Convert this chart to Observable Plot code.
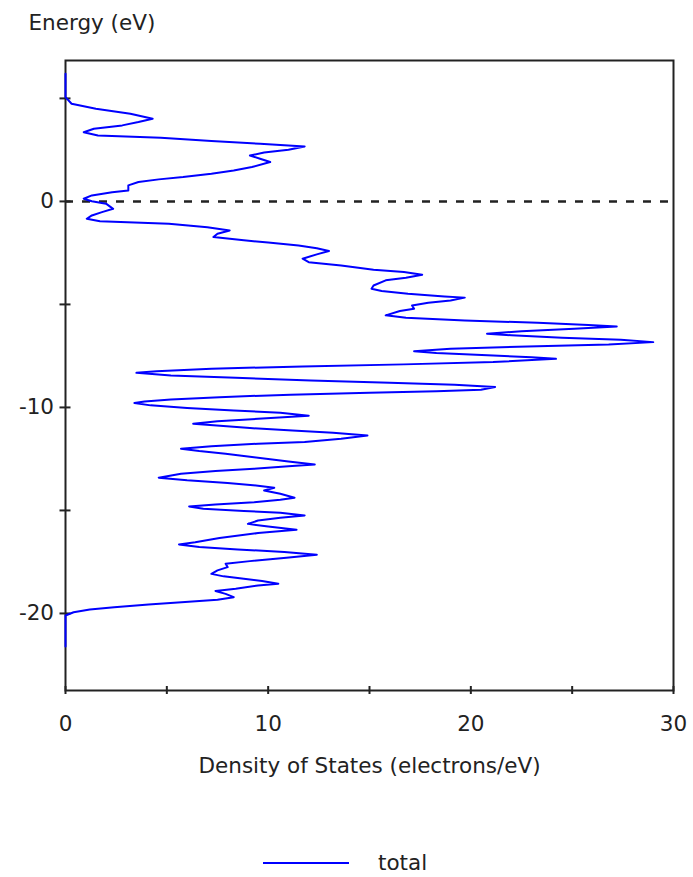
<!DOCTYPE html>
<html>
<head>
<meta charset="utf-8">
<script src="https://cdn.jsdelivr.net/npm/d3@7"></script>
<script src="https://cdn.jsdelivr.net/npm/@observablehq/plot@0.6"></script>
<style>
  html, body { margin: 0; padding: 0; background: #fff; }
  #wrap { position: relative; width: 693px; height: 877px; font-family: "DejaVu Sans", sans-serif; color: #222; }
  #legend-line { position: absolute; left: 263px; top: 861.5px; width: 86px; height: 2px; background: #0000ff; }
  #legend-text { position: absolute; left: 378px; top: 851.8px; font-size: 21.5px; line-height: 1; }
</style>
</head>
<body>
<div id="wrap">
  <div id="chart"></div>
  <div id="legend-line"></div>
  <span id="legend-text">total</span>
</div>
<script>
// Energy (eV), from top to bottom, and total density of states (electrons/eV)
const energy = [
  6.2, 5.06, 4.74, 4.5, 4.26, 4.01, 3.85, 3.69, 3.53, 3.36, 3.2, 3.09, 2.93, 2.8, 2.67, 2.51, 2.37, 2.23, 2.07, 1.91,
  1.67, 1.5, 1.34, 1.18, 1.07, 0.94, 0.78, 0.53, 0.45, 0.29, 0.13, 0.01, -0.11, -0.36, -0.52, -0.68, -0.84, -0.96, -1.08, -1.25,
  -1.41, -1.57, -1.73, -1.89, -2.0, -2.14, -2.27, -2.41, -2.57, -2.78, -2.95, -3.11, -3.32, -3.43, -3.56, -3.7, -3.83, -4.08, -4.24, -4.35,
  -4.48, -4.61, -4.67, -4.81, -4.92, -5.05, -5.21, -5.32, -5.53, -5.65, -5.78, -5.89, -6.0, -6.07, -6.18, -6.3, -6.42, -6.5, -6.62, -6.72,
  -6.83, -6.94, -7.04, -7.15, -7.27, -7.36, -7.48, -7.56, -7.64, -7.8, -7.91, -8.01, -8.12, -8.24, -8.32, -8.45, -8.56, -8.69, -8.8, -8.9,
  -9.01, -9.14, -9.21, -9.29, -9.38, -9.5, -9.61, -9.71, -9.79, -9.9, -10.03, -10.15, -10.26, -10.4, -10.55, -10.67, -10.79, -10.87, -11.0, -11.12,
  -11.23, -11.36, -11.52, -11.68, -11.76, -11.88, -12.0, -12.12, -12.25, -12.38, -12.49, -12.62, -12.77, -12.86, -12.98, -13.09, -13.22, -13.41, -13.54, -13.67,
  -13.8, -13.9, -14.03, -14.19, -14.38, -14.48, -14.6, -14.71, -14.81, -14.92, -15.03, -15.11, -15.24, -15.36, -15.49, -15.65, -15.78, -15.94, -16.1, -16.34,
  -16.54, -16.65, -16.78, -16.89, -17.02, -17.15, -17.3, -17.46, -17.59, -17.75, -17.91, -18.08, -18.2, -18.32, -18.43, -18.56, -18.64, -18.8, -18.91, -19.05,
  -19.21, -19.34, -19.45, -19.56, -19.7, -19.81, -19.94, -20.1, -21.6
];
const dos = [
  0, 0, 0.3, 1.5, 3.2, 4.3, 3.6, 2.8, 1.4, 0.9, 1.6, 4.7, 7.2, 9.6, 11.8, 11.0, 9.8, 9.1, 9.6, 10.1,
  9.2, 8.3, 7.2, 5.8, 4.6, 3.6, 3.1, 3.1, 2.3, 1.3, 0.9, 1.3, 2.0, 2.35, 1.8, 1.3, 1.05, 1.7, 5.1, 7.0,
  8.1, 7.5, 7.3, 8.8, 10.0, 11.5, 12.4, 13.0, 12.4, 11.7, 12.0, 13.6, 15.2, 16.7, 17.6, 16.8, 15.8, 15.2, 15.1, 15.6,
  16.9, 18.7, 19.7, 19.0, 17.9, 17.1, 17.2, 16.5, 15.8, 16.8, 19.7, 23.3, 25.8, 27.2, 25.1, 22.5, 20.8, 22.0, 24.5, 27.4,
  29.0, 26.8, 22.8, 19.0, 17.2, 18.3, 21.1, 23.0, 24.2, 21.1, 16.7, 11.7, 7.2, 4.5, 3.5, 5.2, 8.4, 12.1, 16.0, 19.2,
  21.2, 20.5, 18.3, 15.0, 11.1, 7.6, 5.2, 3.9, 3.4, 4.2, 6.0, 8.3, 10.6, 12.0, 9.5, 7.5, 6.3, 7.3, 9.1, 11.2,
  13.2, 14.9, 13.6, 11.8, 9.5, 7.2, 5.7, 6.6, 7.9, 9.0, 9.9, 11.0, 12.3, 11.0, 9.3, 7.4, 5.7, 4.6, 6.0, 8.0,
  9.5, 10.3, 9.8, 10.6, 11.3, 10.6, 9.3, 7.4, 6.1, 6.8, 8.8, 10.6, 11.8, 10.6, 9.5, 9.0, 10.0, 11.4, 9.5, 7.6,
  6.4, 5.6, 6.6, 8.5, 10.8, 12.4, 10.9, 9.1, 7.9, 8.0, 7.5, 7.2, 7.8, 8.8, 9.7, 10.5, 9.5, 8.4, 7.4, 7.9,
  8.3, 7.5, 5.9, 4.1, 2.4, 1.2, 0.4, 0, 0
];
const xTicks = [0, 5, 10, 15, 20, 25, 30];
const xTickLabels = [0, 10, 20, 30];
const yTicks = [5, 0, -5, -10, -15, -20];
const yTickLabels = [0, -10, -20];
const fermiLevel = [0];
const xTitle = "Density of States (electrons/eV)";
const yTitle = "Energy (eV)";

const data = energy.map((e, i) => ({energy: e, dos: dos[i]}));
const ink = "#222";

const chart = Plot.plot({
  width: 693,
  height: 800,
  marginTop: 60,
  marginLeft: 65,
  marginRight: 20,
  marginBottom: 110,
  style: {fontFamily: "DejaVu Sans, sans-serif", fontSize: "21.5px", color: ink, background: "#fff"},
  x: {domain: [0, 30], range: [65, 673]},
  y: {domain: [-23.74, 6.84]},
  marks: [
    Plot.axisX({ticks: xTicks, tickSize: 8, dy: -4, strokeWidth: 2, stroke: ink, fill: "none", label: null}),
    Plot.axisX({ticks: xTickLabels, tickSize: 0, tickPadding: 25, tickFormat: d => String(d), fill: ink, label: null}),
    Plot.axisY({ticks: yTicks, tickSize: 11, dx: 5.5, strokeWidth: 2, stroke: ink, fill: "none", label: null}),
    Plot.axisY({ticks: yTickLabels, tickSize: 0, tickPadding: 11.5, tickFormat: d => String(d), fill: ink, label: null}),
    Plot.ruleY(fermiLevel, {stroke: ink, strokeWidth: 2.5, strokeDasharray: "8,9"}),
    Plot.frame({stroke: ink, strokeWidth: 2}),
    Plot.line(data, {x: "dos", y: "energy", stroke: "#0000ff", strokeWidth: 2}),
    Plot.text([yTitle], {text: d => d, frameAnchor: "top-left", dx: -37, dy: -30.5, textAnchor: "start", lineAnchor: "bottom", fill: ink}),
    Plot.text([xTitle], {text: d => d, frameAnchor: "bottom", dy: 82, textAnchor: "middle", lineAnchor: "bottom", fill: ink})
  ]
});
document.getElementById("chart").appendChild(chart);
</script>
</body>
</html>
